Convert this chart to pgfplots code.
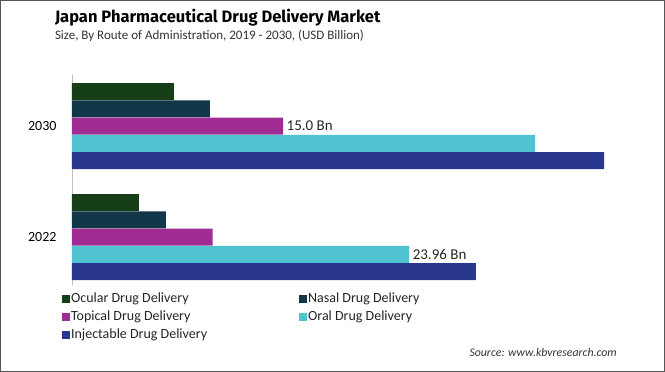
\documentclass[border=0pt]{standalone}
\usepackage{pgfplots}
\pgfplotsset{compat=1.18}
\usepackage{fontspec}
\setmainfont{Carlito}
\newfontfamily\titlefont{Fira Sans}
\definecolor{cOcu}{HTML}{163F18}
\definecolor{cNas}{HTML}{123749}
\definecolor{cTop}{HTML}{A02C93}
\definecolor{cOra}{HTML}{4FC3CF}
\definecolor{cInj}{HTML}{2A378F}
\definecolor{frame}{HTML}{555555}
\begin{document}
\begin{tikzpicture}[x=1pt,y=1pt]
\useasboundingbox (0,0) rectangle (665,-372);
\draw[frame, line width=1pt] (0.5,-0.5) rectangle (664.5,-371.5);
\node[anchor=base west, inner sep=0pt, outer sep=0pt] at (55,-22) {\titlefont\bfseries\fontsize{16.5}{19}\selectfont Japan Pharmaceutical Drug Delivery Market};
\node[anchor=base west, inner sep=0pt, outer sep=0pt, text=black!80] at (55,-39) {\fontsize{13}{15}\selectfont Size, By Route of Administration, 2019 - 2030, (USD Billion)};
\node[anchor=base east, inner sep=0, text=black!80] at (617,-356) {\itshape\fontsize{11.8}{14}\selectfont Source: www.kbvresearch.com};
\begin{axis}[
  at={(72pt,-285pt)}, anchor=south west,
  scale only axis, width=563pt, height=210pt,
  xmin=0, xmax=40, ymin=-0.43, ymax=1.46,
  xbar, bar width=17pt,
  axis x line=none,
  axis y line=left, y axis line style={draw=black!25, -},
  ytick={0,1}, yticklabels={2022,2030},
  major tick length=0pt,
  yticklabel style={font=\fontsize{14}{16}\selectfont, xshift=-12pt},
  legend columns=2,
  legend cell align=left,
  legend style={at={(axis description cs:-0.018,-0.03)}, anchor=north west, draw=none, inner sep=0pt,
    font=\fontsize{14}{16}\selectfont, text=black!85,
    nodes={text height=9.5pt, text depth=3pt, inner sep=1pt},
    row sep=3.5pt,
    /tikz/every even column/.append style={column sep=91pt}},
  legend image code/.code={\fill[#1] (0pt,-4pt) rectangle (8pt,4pt);},
  nodes near coords style={anchor=west, font=\fontsize{15}{17}\selectfont, text=black!85},
]
\addplot[fill=cOcu, draw=none, bar shift=34.5pt] coordinates {(4.76,0) (7.24,1)};
\addlegendentry{Ocular Drug Delivery}
\addplot[fill=cNas, draw=none, bar shift=17.25pt] coordinates {(6.67,0) (9.8,1)};
\addlegendentry{Nasal Drug Delivery}
\addplot[fill=cTop, draw=none, bar shift=0pt, nodes near coords, point meta=explicit symbolic] coordinates {(10.0,0) [] (15.0,1) [15.0 Bn]};
\addlegendentry{Topical Drug Delivery}
\addplot[fill=cOra, draw=none, bar shift=-17.25pt, nodes near coords, point meta=explicit symbolic] coordinates {(23.96,0) [23.96 Bn] (32.9,1) []};
\addlegendentry{Oral Drug Delivery}
\addplot[fill=cInj, draw=none, bar shift=-34.5pt] coordinates {(28.7,0) (37.8,1)};
\addlegendentry{Injectable Drug Delivery}
\end{axis}
\end{tikzpicture}
\end{document}
